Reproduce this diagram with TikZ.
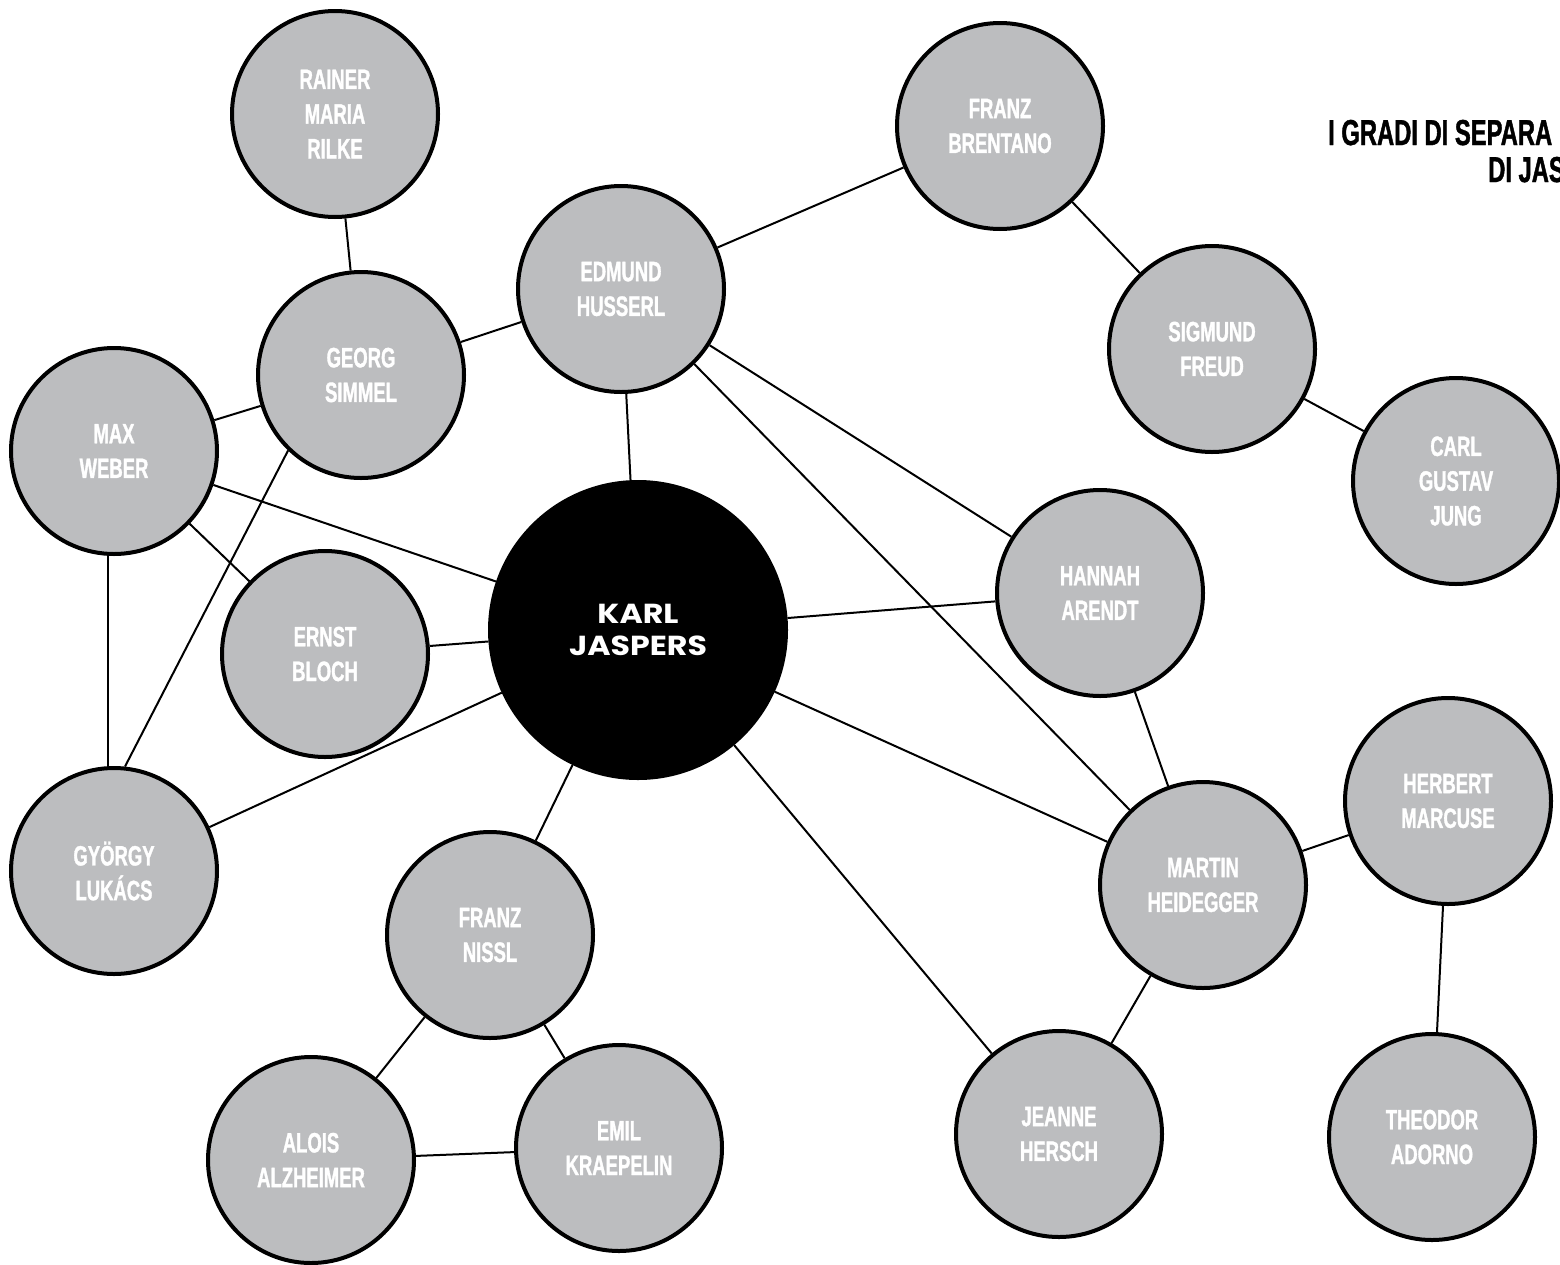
\documentclass[tikz,border=0pt]{standalone}
\usepackage{fontspec}
\setmainfont{Liberation Sans}
\newfontfamily\condfont[FakeStretch=0.66,FakeBold=1.2]{Liberation Sans}
\newfontfamily\widefont[FakeStretch=1.15]{Poppins}
\usetikzlibrary{backgrounds}
\definecolor{nodegray}{HTML}{BCBDBF}
\tikzset{
  person/.style={circle, draw=black, line width=4pt, fill=nodegray,
    minimum size=206pt, inner sep=0pt, text=white, align=center,
    font=\condfont\bfseries\fontsize{28}{34.7}\selectfont},
  hub/.style={circle, draw=black, line width=4pt, fill=black,
    minimum size=296pt, inner sep=0pt, text=white, align=center,
    font=\widefont\bfseries\fontsize{27.5}{31.5}\selectfont},
  link/.style={line width=2pt, draw=black},
  titletext/.style={anchor=base west, inner sep=0pt, text=black,
    font=\condfont\bfseries\fontsize{36}{37}\selectfont}
}
\begin{document}
\begin{tikzpicture}[x=1pt, y=-1pt]
\useasboundingbox (0,0) rectangle (1560,1264);
\clip (0,0) rectangle (1560,1264);

\node[person] (rilke) at (335,114) {RAINER\\MARIA\\RILKE};
\node[person] (brentano) at (1000,126) {FRANZ\\BRENTANO};
\node[person] (husserl) at (621,289) {EDMUND\\HUSSERL};
\node[person] (simmel) at (361,375) {GEORG\\SIMMEL};
\node[person] (weber) at (114,451) {MAX\\WEBER};
\node[person] (freud) at (1212,349) {SIGMUND\\FREUD};
\node[person] (jung) at (1456,481) {CARL\\GUSTAV\\JUNG};
\node[hub] (jaspers) at (638,630) {KARL\\JASPERS};
\node[person] (bloch) at (325,654) {ERNST\\BLOCH};
\node[person] (arendt) at (1100,593) {HANNAH\\ARENDT};
\node[person] (lukacs) at (114,871) {GYÖRGY\\LUKÁCS};
\node[person] (marcuse) at (1448,801) {HERBERT\\MARCUSE};
\node[person] (heidegger) at (1203,885) {MARTIN\\HEIDEGGER};
\node[person] (nissl) at (490,935) {FRANZ\\NISSL};
\node[person] (alzheimer) at (311,1160) {ALOIS\\ALZHEIMER};
\node[person] (kraepelin) at (619,1148) {EMIL\\KRAEPELIN};
\node[person] (hersch) at (1059,1134) {JEANNE\\HERSCH};
\node[person] (adorno) at (1432,1137) {THEODOR\\ADORNO};

\node[titletext] (title1) at (1328,145) {I GRADI DI SEPARA};
\node[titletext] (title2) at (1488,182) {DI JAS};

\begin{pgfonlayer}{background}
\draw[link] (rilke) -- (simmel);
\draw[link] (brentano) -- (husserl);
\draw[link] (brentano) -- (freud);
\draw[link] (freud) -- (jung);
\draw[link] (husserl) -- (simmel);
\draw[link] (husserl) -- (jaspers);
\draw[link] (husserl) -- (arendt);
\draw[link] (husserl) -- (heidegger);
\draw[link] (simmel) -- (weber);
\draw[link] (simmel.226) -- (lukacs.84);
\draw[link] (weber) -- (jaspers);
\draw[link] (weber) -- (bloch);
\draw[link] ([xshift=-6pt]weber.center) -- ([xshift=-6pt]lukacs.center);
\draw[link] (bloch) -- (jaspers);
\draw[link] (jaspers) -- (arendt);
\draw[link] (jaspers) -- (lukacs);
\draw[link] (jaspers) -- (nissl);
\draw[link] (jaspers) -- (heidegger);
\draw[link] (jaspers) -- (hersch);
\draw[link] (arendt) -- (heidegger);
\draw[link] (heidegger) -- (marcuse);
\draw[link] (heidegger) -- (hersch);
\draw[link] (marcuse) -- (adorno);
\draw[link] (nissl) -- (alzheimer);
\draw[link] (nissl) -- (kraepelin);
\draw[link] (alzheimer) -- (kraepelin);
\end{pgfonlayer}
\end{tikzpicture}
\end{document}
